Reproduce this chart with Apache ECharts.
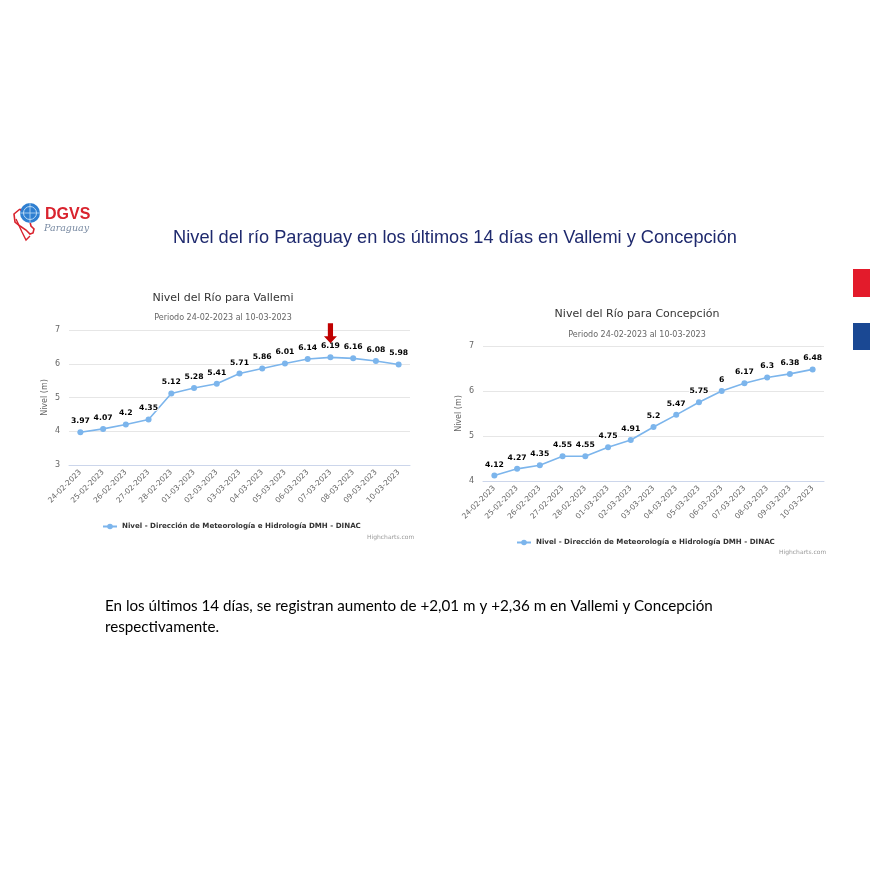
<!DOCTYPE html>
<html><head><meta charset="utf-8">
<script src="https://cdn.jsdelivr.net/npm/echarts@6/dist/echarts.min.js"></script>
<style>html,body{margin:0;padding:0;background:#fff}#c{width:870px;height:870px}</style>
</head><body><div id="c"></div>
<script>
const dates = ['24-02-2023','25-02-2023','26-02-2023','27-02-2023','28-02-2023','01-03-2023','02-03-2023','03-03-2023','04-03-2023','05-03-2023','06-03-2023','07-03-2023','08-03-2023','09-03-2023','10-03-2023'];
const vallemi = [3.97,4.07,4.2,4.35,5.12,5.28,5.41,5.71,5.86,6.01,6.14,6.19,6.16,6.08,5.98];
const concepcion = [4.12,4.27,4.35,4.55,4.55,4.75,4.91,5.2,5.47,5.75,6,6.17,6.3,6.38,6.48];
const seriesName = 'Nivel - Dirección de Meteorología e Hidrología DMH - DINAC';

const hcFont = '"DejaVu Sans", sans-serif';
const chart = echarts.init(document.getElementById('c'));

function xAxisCfg(gi){
  return {type:'category', gridIndex:gi, data:dates, boundaryGap:true,
    axisLine:{lineStyle:{color:'#ccd6eb'}}, axisTick:{show:false},
    axisLabel:{rotate:45, color:'#666', fontSize:7.5, fontFamily:hcFont, interval:0, margin:6}};
}
function yAxisCfg(gi,min){
  return {type:'value', gridIndex:gi, min:min, max:7, interval:1,
    name:'Nivel (m)', nameLocation:'middle', nameRotate:90, nameGap:20,
    nameTextStyle:{color:'#666', fontSize:8, fontFamily:hcFont},
    axisLine:{show:false}, axisTick:{show:false},
    splitLine:{lineStyle:{color:'#e6e6e6'}},
    axisLabel:{color:'#666', fontSize:8, fontFamily:hcFont, margin:9}};
}
function seriesCfg(gi,data){
  return {type:'line', name:seriesName, xAxisIndex:gi, yAxisIndex:gi, data:data,
    color:'#7cb5ec', symbol:'circle', symbolSize:6, lineStyle:{width:1.6},
    label:{show:true, position:'top', distance:4, color:'#000', fontWeight:'bold', fontSize:7.7, fontFamily:hcFont,
      textBorderColor:'#fff', textBorderWidth:2}};
}

const valSeries = seriesCfg(0, vallemi);
valSeries.markPoint = {
  symbol:'path://M3,0 L7,0 L7,11 L10,11 L5,17 L0,11 L3,11 Z',
  symbolSize:[13,20], symbolOffset:[0,-24], label:{show:false}, silent:true,
  itemStyle:{color:'#c00000'},
  data:[{coord:['07-03-2023', 6.19]}]
};

chart.setOption({
  animation:false,
  title:[
    {text:'Nivel del Río para Vallemi', left:223, top:293, textAlign:'center', padding:0,
     textStyle:{color:'#333', fontSize:11, fontWeight:'normal', fontFamily:hcFont}},
    {text:'Periodo 24-02-2023 al 10-03-2023', left:223, top:314, textAlign:'center', padding:0,
     textStyle:{color:'#666', fontSize:8, fontWeight:'normal', fontFamily:hcFont}},
    {text:'Nivel del Río para Concepción', left:637, top:309, textAlign:'center', padding:0,
     textStyle:{color:'#333', fontSize:11, fontWeight:'normal', fontFamily:hcFont}},
    {text:'Periodo 24-02-2023 al 10-03-2023', left:637, top:331, textAlign:'center', padding:0,
     textStyle:{color:'#666', fontSize:8, fontWeight:'normal', fontFamily:hcFont}},
    {text:'Nivel del río Paraguay en los últimos 14 días en Vallemi y Concepción', left:455, top:229, textAlign:'center', padding:0,
     textStyle:{color:'#1f2a6e', fontSize:18.2, fontWeight:'normal', fontFamily:'"Liberation Sans", Arial, sans-serif'}}
  ],
  legend:[
    {data:[seriesName], left:102, top:523, padding:0, itemWidth:14, itemHeight:7,
     textStyle:{color:'#333', fontSize:7.1, fontWeight:'bold', fontFamily:hcFont}},
    {data:[seriesName], left:516, top:539, padding:0, itemWidth:14, itemHeight:7,
     textStyle:{color:'#333', fontSize:7.1, fontWeight:'bold', fontFamily:hcFont}}
  ],
  grid:[
    {left:69, width:341, top:330, height:135},
    {left:483, width:341, top:346, height:135}
  ],
  xAxis:[xAxisCfg(0), xAxisCfg(1)],
  yAxis:[yAxisCfg(0,3), yAxisCfg(1,4)],
  series:[valSeries, seriesCfg(1, concepcion)],
  graphic:[
    {type:'text', left:367, top:534, style:{text:'Highcharts.com', fill:'#999', fontSize:6, fontFamily:hcFont}},
    {type:'text', left:779, top:549, style:{text:'Highcharts.com', fill:'#999', fontSize:6, fontFamily:hcFont}},
    {type:'text', left:105, top:596, style:{text:'En los últimos 14 días, se registran aumento de +2,01 m y +2,36 m en Vallemi y Concepción\nrespectivamente.', fill:'#000', fontSize:15.2, lineHeight:21, fontFamily:'Lato, "Open Sans", sans-serif'}},
    {type:'rect', shape:{x:853, y:269, width:17, height:28}, style:{fill:'#e31b2b'}},
    {type:'rect', shape:{x:853, y:323, width:17, height:27}, style:{fill:'#1a4893'}},
    // logo
    {type:'polyline', shape:{points:[[20,209],[14,214],[15,222],[20,226],[26,230],[30,234],[33,233],[34,229],[31,226],[30,222],[27,218],[24,214],[20,209]]}, style:{stroke:'#d9232e', lineWidth:1.6, fill:null}},
    {type:'polyline', shape:{points:[[16,219],[22,232],[26,240],[30,236]]}, style:{stroke:'#d9232e', lineWidth:1.4, fill:null}},
    {type:'circle', shape:{cx:30, cy:213, r:10}, style:{fill:'#2f7fd1'}},
    {type:'circle', shape:{cx:30, cy:213, r:6.5}, style:{fill:null, stroke:'#bcdcf6', lineWidth:1}},
    {type:'line', shape:{x1:20, y1:213, x2:40, y2:213}, style:{stroke:'#bcdcf6', lineWidth:0.8}},
    {type:'line', shape:{x1:30, y1:203, x2:30, y2:223}, style:{stroke:'#bcdcf6', lineWidth:0.8}},
    {type:'text', left:45, top:207, style:{text:'DGVS', fill:'#d9232e', fontSize:16, fontWeight:'bold', fontFamily:'"Liberation Sans", Arial, sans-serif'}},
    {type:'text', left:44, top:224, style:{text:'Paraguay', fill:'#7a8ba3', fontSize:9.5, fontStyle:'italic', fontFamily:'"DejaVu Serif", serif'}}
  ]
});
</script></body></html>
